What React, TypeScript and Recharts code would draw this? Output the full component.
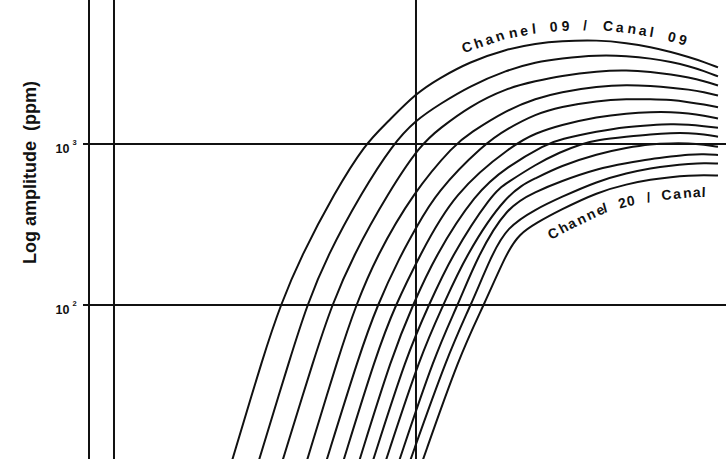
import { LineChart, Line, XAxis, YAxis, ReferenceLine } from 'recharts'

// [conductivity-like x value, amplitude in ppm]
type Pt = [number, number]

const CH09: Pt[] = [[2.43, 10], [3.14, 50], [3.56, 100], [4.16, 200], [5.38, 500], [6.78, 1000], [8, 1350], [10, 2070], [12, 2570], [15, 3230], [20, 3890], [25, 4210], [30, 4360], [40, 4430], [50, 4240], [60, 4000], [70, 3730], [80, 3470], [90, 3230], [100, 2990]]
const CH10: Pt[] = [[2.98, 10], [3.87, 50], [4.36, 100], [5.07, 200], [6.61, 500], [8.39, 1000], [10, 1410], [12, 1770], [15, 2280], [20, 2880], [25, 3230], [30, 3400], [40, 3570], [50, 3520], [60, 3400], [70, 3230], [80, 3050], [90, 2840], [100, 2630]]
const CH11: Pt[] = [[3.57, 10], [4.65, 50], [5.27, 100], [6.17, 200], [8.1, 500], [10.39, 1000], [12, 1250], [15, 1710], [20, 2230], [25, 2460], [30, 2650], [40, 2840], [50, 2880], [60, 2800], [70, 2700], [80, 2590], [90, 2460], [100, 2310]]
const CH12: Pt[] = [[4.3, 10], [5.58, 50], [6.33, 100], [7.39, 200], [9.79, 500], [13.46, 1000], [15, 1160], [20, 1630], [25, 1920], [30, 2100], [40, 2280], [50, 2330], [60, 2290], [70, 2240], [80, 2180], [90, 2100], [100, 2000]]
const CH13: Pt[] = [[4.99, 10], [6.51, 50], [7.45, 100], [8.85, 200], [10, 300], [11.65, 500], [16.8, 1000], [20, 1240], [25, 1540], [30, 1700], [40, 1860], [50, 1900], [60, 1900], [70, 1880], [80, 1820], [90, 1760], [100, 1690]]
const CH14: Pt[] = [[5.68, 10], [7.4, 50], [8.55, 100], [10.25, 200], [13.33, 500], [21.11, 1000], [25, 1170], [30, 1310], [40, 1480], [50, 1550], [60, 1580], [70, 1580], [80, 1550], [90, 1500], [100, 1440]]
const CH15: Pt[] = [[6.41, 10], [8.37, 50], [9.77, 100], [11.54, 200], [15.76, 500], [20, 720], [26.95, 1000], [30, 1070], [40, 1200], [50, 1280], [60, 1310], [70, 1330], [80, 1320], [90, 1290], [100, 1260]]
const CH16: Pt[] = [[7.11, 10], [9.35, 50], [11.04, 100], [13.06, 200], [17.95, 500], [20, 573], [25, 750], [30, 890], [35.18, 1000], [40, 1060], [50, 1110], [60, 1150], [70, 1170], [80, 1170], [90, 1150], [100, 1110]]
const CH17: Pt[] = [[7.84, 10], [10.39, 50], [12.33, 100], [14.53, 200], [20, 500], [25, 615], [30, 730], [40, 870], [50, 950], [60, 1000], [70, 1010], [80, 1010], [90, 990], [100, 960]]
const CH18: Pt[] = [[8.68, 10], [11.57, 50], [13.77, 100], [15.97, 200], [20, 410], [25, 507], [30, 585], [40, 704], [50, 762], [60, 807], [70, 836], [80, 861], [90, 867], [100, 855]]
const CH19: Pt[] = [[9.43, 10], [12.78, 50], [15.21, 100], [17.72, 200], [20, 305], [25, 395], [30, 465], [40, 589], [50, 660], [60, 709], [70, 735], [80, 751], [90, 762], [100, 756]]
const CH20: Pt[] = [[10.37, 10], [14.01, 50], [16.8, 100], [20, 213], [22, 276], [25, 323], [30, 389], [40, 503], [50, 564], [60, 602], [70, 624], [80, 637], [90, 642], [100, 637]]

const CHANNELS = [CH09, CH10, CH11, CH12, CH13, CH14, CH15, CH16, CH17, CH18, CH19, CH20]

const Y_TICKS = [10, 100, 1000]
const Y_GRID = [100, 1000]
const X_GRID = [1, 10]

const TOP_LABEL = 'Channel 09 / Canal 09'
const BOTTOM_LABEL = 'Channel 20 / Canal'
const Y_TITLE = 'Log amplitude  (ppm)'

const W = 726
const H = 459
const TOP = -17
const CHART_H = 483
const AXIS_W = 89
const X_DOMAIN: [number, number] = [0.8265, 106.3]
const Y_DOMAIN: [number, number] = [10, 10000]
const INK = '#111'
const FONT = '"Liberation Sans", Arial, Helvetica, sans-serif'

// same mapping as the chart, for the curved labels drawn on top
const lx0 = Math.log10(X_DOMAIN[0])
const lx1 = Math.log10(X_DOMAIN[1])
const ly0 = Math.log10(Y_DOMAIN[0])
const ly1 = Math.log10(Y_DOMAIN[1])
const px = (x: number) => AXIS_W + ((W - AXIS_W) * (Math.log10(x) - lx0)) / (lx1 - lx0)
const py = (a: number) => TOP + (CHART_H * (ly1 - Math.log10(a))) / (ly1 - ly0)

function guide(points: Pt[], fromX: number) {
  return points
    .filter(([x]) => x >= fromX)
    .map(([x, a], i) => `${i ? 'L' : 'M'}${px(x).toFixed(1)},${py(a).toFixed(1)}`)
    .join(' ')
}

function PowerTick({ y, payload }: any) {
  const exp = Math.round(Math.log10(payload.value))
  return (
    <g fontFamily={FONT} fontWeight="bold" fill={INK}>
      <text x={69.5} y={y + 9.3} textAnchor="end" fontSize={12.5}>10</text>
      <text x={72.5} y={y + 1.3} fontSize={7.5}>{exp}</text>
    </g>
  )
}

export default function App() {
  return (
    <div style={{ position: 'fixed', left: 0, top: 0, width: W, height: H, overflow: 'hidden', background: '#fff' }}>
      <div style={{ position: 'absolute', left: 0, top: TOP }}>
        <LineChart width={W} height={CHART_H} margin={{ top: 0, right: 0, bottom: 0, left: 0 }}>
          <XAxis dataKey="x" type="number" scale="log" domain={X_DOMAIN} allowDataOverflow hide />
          <YAxis
            type="number"
            scale="log"
            domain={Y_DOMAIN}
            allowDataOverflow
            ticks={Y_TICKS}
            width={AXIS_W}
            tickSize={6}
            axisLine={{ stroke: INK, strokeWidth: 2 }}
            tickLine={{ stroke: INK, strokeWidth: 2 }}
            tick={<PowerTick />}
          />
          {Y_GRID.map(v => (
            <ReferenceLine key={`h${v}`} y={v} stroke={INK} strokeWidth={2} />
          ))}
          {X_GRID.map(v => (
            <ReferenceLine key={`v${v}`} x={v} stroke={INK} strokeWidth={2} />
          ))}
          {CHANNELS.map((pts, i) => (
            <Line
              key={i}
              data={pts.map(([x, amp]) => ({ x, amp }))}
              dataKey="amp"
              type="basis"
              stroke={INK}
              strokeWidth={2}
              dot={false}
              activeDot={false}
              isAnimationActive={false}
            />
          ))}
        </LineChart>
      </div>
      <svg width={W} height={H} style={{ position: 'absolute', left: 0, top: 0, pointerEvents: 'none' }}>
        <defs>
          <path id="guide09" d={guide(CH09, 12)} fill="none" />
          <path id="guide20" d={guide(CH20, 25)} fill="none" />
        </defs>
        <text
          transform="translate(36,172.5) rotate(-90)"
          textAnchor="middle"
          fontFamily={FONT}
          fontWeight="bold"
          fontSize={18}
          fill={INK}
          style={{ whiteSpace: 'pre' }}
        >
          {Y_TITLE}
        </text>
        <text fontFamily={FONT} fontWeight="bold" fontSize={14} letterSpacing={3} wordSpacing={4} fill={INK} dy={-10}>
          <textPath href="#guide09" startOffset={31}>{TOP_LABEL}</textPath>
        </text>
        <text fontFamily={FONT} fontWeight="bold" fontSize={14} letterSpacing={2.2} wordSpacing={4} fill={INK} dy={22}>
          <textPath href="#guide20" startOffset={5}>{BOTTOM_LABEL}</textPath>
        </text>
      </svg>
    </div>
  )
}
